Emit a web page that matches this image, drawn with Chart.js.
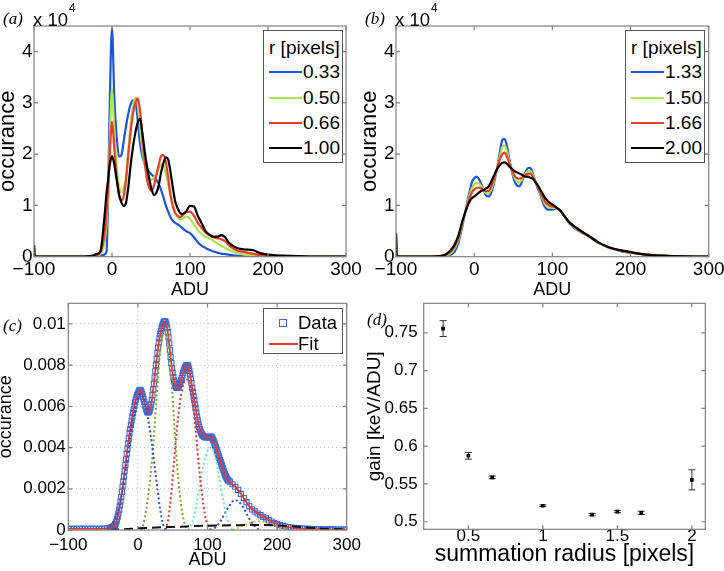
<!DOCTYPE html>
<html><head><meta charset="utf-8">
<script src="https://cdn.jsdelivr.net/npm/chart.js@4/dist/chart.umd.min.js"></script>
<style>
html,body{margin:0;padding:0;background:#fff;}
#wrap{position:relative;width:724px;height:571px;overflow:hidden;font-family:"Liberation Sans",Arial,sans-serif;color:#000;}
canvas{position:absolute;left:0;top:0;}
.plab{position:absolute;font-family:"Liberation Serif",serif;font-style:italic;font-size:17px;line-height:17px;white-space:nowrap;}
.exp{position:absolute;font-size:18.5px;line-height:18px;white-space:nowrap;}
.exp span{position:absolute;font-size:12px;line-height:12px;top:-9px;}
.leg{position:absolute;background:#fff;border:1px solid #555;box-sizing:border-box;}
.leg .t{position:absolute;white-space:nowrap;}
.leg .sw{position:absolute;}
</style></head>
<body><div id="wrap">
<canvas id="ca" width="724" height="571"></canvas>
<canvas id="cb" width="724" height="571"></canvas>
<canvas id="cc" width="724" height="571"></canvas>
<canvas id="cd" width="724" height="571"></canvas>
</div>
<script>
// ---------- Panels (a) and (b): ADU histograms (values in units of 10^4) ----------
const aduAB = [-100,-99,-60,-40,-30,-25,-20,-15,-10,-7,-5,-3,0,3,6,9,12,15,18,21,24,27,30,33,36,39,42,45,48,51,54,57,60,63,66,69,72,75,78,81,84,87,90,95,100,105,110,115,120,125,130,135,140,145,150,160,170,180,190,200,220,240,270,300];
const namesA = ['0.33','0.50','0.66','1.00'];
const namesB = ['1.33','1.50','1.66','2.00'];
const r033 = [0.22,0,0,0,0,0,0.01,0.02,0.04,0.1, 1.2,2.9,4.46,3.1,2.34,1.95,1.98,2.25,2.55,2.8, 2.98,3.05,3.03,2.65,2.2,1.95,1.82,1.72,1.65,1.6, 1.56,1.5,1.42,1.3,1.16,1.0,0.88,0.77,0.7,0.66, 0.63,0.6,0.56,0.5,0.46,0.38,0.28,0.21,0.17,0.13, 0.1,0.08,0.06,0.05,0.04,0.02,0.01,0.005,0,0, 0,0,0,0];
const r050 = [0.22,0,0,0,0,0.01,0.02,0.05,0.25,0.65, 1.2,2.2,3.29,2.45,1.75,1.38,1.25,1.33,1.6,2.1, 2.6,2.95,3.1,2.97,2.5,2.1,1.78,1.58,1.5,1.5, 1.55,1.62,1.72,1.8,1.78,1.62,1.42,1.2,1.02,0.88, 0.78,0.73,0.74,0.78,0.74,0.63,0.52,0.44,0.39,0.36, 0.31,0.26,0.21,0.17,0.13,0.07,0.04,0.03,0.02,0.01, 0.005,0,0,0];
const r066 = [0.22,0,0,0,0,0.01,0.03,0.08,0.4,0.85, 1.3,1.95,2.63,2.1,1.56,1.2,1.1,1.18,1.5,2.0, 2.45,2.8,3.0,3.09,2.85,2.35,1.85,1.5,1.33,1.28, 1.4,1.6,1.8,1.96,1.98,1.85,1.55,1.2,0.98,0.85, 0.8,0.77,0.8,0.87,0.88,0.8,0.66,0.56,0.47,0.42, 0.38,0.36,0.34,0.3,0.22,0.12,0.09,0.06,0.03,0.02, 0.01,0.005,0,0];
const r100 = [0.22,0,0,0,0.01,0.02,0.05,0.1,0.72,1.24, 1.5,1.78,1.96,1.8,1.5,1.22,1.06,0.99,1.05,1.37, 1.8,2.15,2.42,2.62,2.69,2.4,2.05,1.75,1.5,1.3, 1.2,1.25,1.4,1.65,1.83,1.94,1.9,1.65,1.35,1.08, 0.95,0.86,0.83,0.88,0.99,0.98,0.8,0.65,0.5,0.43, 0.39,0.39,0.42,0.38,0.27,0.17,0.14,0.13,0.07,0.04, 0.02,0.01,0,0];
const r133 = [0.45,0,0,0,0.04,0.1,0.28,0.6,0.97,1.2, 1.32,1.45,1.53,1.56,1.52,1.42,1.3,1.2,1.17,1.22, 1.35,1.55,1.78,2.05,2.28,2.3,2.15,1.9,1.68,1.5, 1.4,1.37,1.42,1.55,1.66,1.73,1.73,1.62,1.48,1.35, 1.24,1.1,0.98,0.92,0.92,0.94,0.9,0.8,0.68,0.6, 0.54,0.49,0.45,0.41,0.36,0.26,0.19,0.14,0.1,0.08, 0.04,0.02,0.005,0];
const r150 = [0.45,0,0,0.01,0.07,0.16,0.34,0.64,0.96,1.14, 1.24,1.33,1.41,1.44,1.43,1.38,1.3,1.24,1.23,1.28, 1.41,1.58,1.77,1.97,2.14,2.17,2.05,1.86,1.69,1.56, 1.48,1.45,1.48,1.56,1.63,1.67,1.67,1.59,1.48,1.37, 1.27,1.15,1.04,0.97,0.95,0.95,0.9,0.8,0.69,0.61, 0.55,0.5,0.46,0.41,0.36,0.26,0.19,0.14,0.11,0.08, 0.04,0.02,0.005,0];
const r166 = [0.45,0,0,0.02,0.1,0.2,0.38,0.68,0.94,1.1, 1.18,1.25,1.31,1.34,1.35,1.33,1.3,1.28,1.28,1.34, 1.46,1.6,1.76,1.9,2.0,2.03,1.95,1.82,1.7,1.6, 1.54,1.52,1.53,1.57,1.6,1.62,1.62,1.56,1.47,1.38, 1.29,1.19,1.09,1.01,0.98,0.96,0.9,0.8,0.7,0.62, 0.56,0.51,0.46,0.42,0.37,0.27,0.2,0.15,0.11,0.085, 0.04,0.02,0.005,0];
const r200 = [0.45,0,0,0.02,0.13,0.24,0.42,0.7,0.93,1.04, 1.1,1.14,1.17,1.21,1.25,1.28,1.3,1.33,1.36,1.44, 1.54,1.64,1.73,1.79,1.83,1.84,1.81,1.76,1.72,1.68, 1.65,1.63,1.61,1.58,1.56,1.56,1.54,1.52,1.46,1.4, 1.32,1.24,1.16,1.07,1.02,0.96,0.9,0.8,0.7,0.63, 0.57,0.52,0.47,0.42,0.37,0.27,0.2,0.15,0.12,0.09, 0.04,0.02,0.005,0];
const xTicksADU = [-100,0,100,200,300];
const xLabelsADU = ['\u2212100','0','100','200','300'];
const yTicksAB = [0,1,2,3,4];
const yLabelsAB = ['0','1','2','3','4'];

// ---------- Panel (c): normalised histogram, fit and components (values in units of 10^-3) ----------
const aduC = [-100,-96,-92,-88,-84,-80,-76,-72,-68,-64,-60,-56,-52,-48,-44,-40,
-39,-38,-37,-36,-35,-34,-33,-32,-31,-30,
-29,-28,-27,-26,-25,-24,-23,-22,-21,-20,
-19,-18,-17,-16,-15,-14,-13,-12,-11,-10,
-9,-8,-7,-6,-5,-4,-3,-2,-1,0,
1,2,3,4,5,6,7,8,9,10,
11,12,13,14,15,16,17,18,19,20,
21,22,23,24,25,26,27,28,29,30,
31,32,33,34,35,36,37,38,39,40,
41,42,43,44,45,46,47,48,49,50,
51,52,53,54,55,56,57,58,59,60,
61,62,63,64,65,66,67,68,69,70,
71,72,73,74,75,76,77,78,79,80,
81,82,83,84,85,86,87,88,89,90,
91,92,93,94,95,96,97,98,99,100,
101,102,103,104,105,106,107,108,109,110,
111,112,113,114,115,116,117,118,119,120,
121,122,123,124,125,126,127,128,129,130,
132,136,140,144,148,152,156,160,164,168,172,176,180,184,188,192,196,200,204,208,212,216,220,224,228,232,236,240,244,248,252,256,260,264,268,272,276,280,284,288,292,296,300];
const dataC = [0.05,0.05,0.05,0.05,0.05,0.05,0.05,0.05,0.05,0.05,0.05,0.06,0.06,0.07,0.08,0.1,
0.11,0.12,0.13,0.15,0.18,0.21,0.25,0.3,0.4,0.52,
0.65,0.8,0.98,1.18,1.38,1.6,1.85,2.1,2.35,2.6,
2.88,3.15,3.42,3.7,3.95,4.2,4.45,4.7,4.9,5.1,
5.3,5.5,5.68,5.86,6.03,6.2,6.32,6.44,6.53,6.62,
6.7,6.76,6.8,6.78,6.7,6.6,6.48,6.35,6.22,6.1,
5.98,5.86,5.76,5.7,5.7,5.74,5.8,5.95,6.1,6.3,
6.55,6.82,7.1,7.4,7.7,8.0,8.3,8.6,8.85,9.1,
9.3,9.5,9.65,9.8,9.92,10.0,10.08,10.12,10.12,10.08,
9.98,9.82,9.6,9.35,9.05,8.72,8.4,8.1,7.85,7.62,
7.42,7.25,7.1,7.0,6.93,6.9,6.9,6.94,7.0,7.08,
7.17,7.27,7.38,7.5,7.62,7.73,7.83,7.91,7.97,8.0,
8.0,7.96,7.87,7.72,7.55,7.35,7.13,6.9,6.7,6.5,
6.3,6.1,5.9,5.7,5.5,5.32,5.15,5.0,4.88,4.78,
4.7,4.64,4.59,4.56,4.53,4.51,4.5,4.5,4.5,4.5,
4.5,4.51,4.52,4.53,4.52,4.5,4.45,4.38,4.3,4.2,
4.1,4.0,3.9,3.8,3.7,3.6,3.5,3.4,3.3,3.2,
3.1,3.0,2.9,2.8,2.7,2.62,2.55,2.49,2.44,2.4,
2.35,2.22,2.1,1.95,1.75,1.55,1.35,1.15,1.0,0.9,0.8,0.72,0.64,0.56,0.48,0.41,0.34,0.29,0.24,0.2,0.17,0.14,0.12,0.1,0.09,0.08,0.07,0.06,0.05,0.05,0.04,0.04,0.04,0.03,0.03,0.03,0.03,0.03,0.02,0.02,0.02,0.02,0.02];
const fitAdu = [-100,-60,-40,-36,-32,-28,-24,-20,-16,-12,-8,-4,0,3,6,10,14,17,20,24,28,32,36,39,42,46,50,54,57,60,64,68,71,74,78,82,86,90,94,98,102,106,110,114,118,122,126,130,135,140,145,150,155,160,170,180,190,200,210,220,230,240,260,280,300];
const fitC = [0.05,0.05,0.1,0.15,0.3,0.8,1.6,2.6,3.7,4.7,5.5,6.2,6.6,6.8,6.6,6.1,5.7,5.8,6.3,7.4,8.6,9.5,10.0,10.1,9.8,8.7,7.6,7.0,6.9,7.1,7.5,7.9,8.0,7.7,6.9,6.1,5.3,4.8,4.6,4.5,4.5,4.5,4.2,3.8,3.4,3.0,2.6,2.4,2.2,2.1,1.9,1.65,1.4,1.15,0.85,0.65,0.45,0.3,0.18,0.12,0.08,0.06,0.04,0.03,0.02];
const comp1X = [-44,-40,-36,-32,-28,-24,-20,-16,-12,-8,-4,0,4,8,12,16,20,24,28,32,36,40];
const comp1Y = [0,0.15,0.35,0.6,1.0,1.6,2.4,3.3,4.3,5.2,5.9,6.4,6.6,6.4,5.9,5.1,4.2,3.1,2.0,1.0,0.3,0];
const comp2X = [4,8,12,16,20,24,28,32,36,40,44,48,52,56,60,64,68,72];
const comp2Y = [0,0.3,1.0,2.0,3.3,5.0,7.0,8.7,9.6,9.7,8.9,7.4,5.3,3.3,1.8,0.8,0.2,0];
const comp3X = [40,44,48,52,56,60,64,68,72,76,80,84,88,92,96,100,104];
const comp3Y = [0,0.6,1.8,3.4,4.9,6.1,6.9,7.3,7.3,6.8,5.8,4.5,3.0,1.8,0.8,0.25,0];
const comp4X = [72,76,80,84,88,92,96,100,104,108,112,116,120,124,128,132,136];
const comp4Y = [0,0.2,0.6,1.2,2.0,2.8,3.4,3.85,4.0,3.9,3.4,2.7,1.9,1.2,0.6,0.2,0];
const comp5X = [104,108,112,116,120,124,128,132,136,140,144,148,152,156,160,164,168,172,176];
const comp5Y = [0,0.05,0.15,0.3,0.5,0.75,1.0,1.2,1.38,1.45,1.4,1.25,1.05,0.8,0.55,0.35,0.18,0.06,0];
const comp6X = [136,144,152,160,168,176,184,192,200,208,216];
const comp6Y = [0,0.1,0.22,0.33,0.4,0.42,0.38,0.28,0.16,0.07,0];
const bgX = [-40,-30,-20,-10,0,20,40,60,80,100,120,140,160,180,200,220,240,260,280,300];
const bgY = [0,0.02,0.04,0.06,0.08,0.11,0.14,0.16,0.19,0.21,0.22,0.23,0.24,0.24,0.22,0.18,0.13,0.08,0.05,0.03];
const yTicksC = [0,2,4,6,8,10];
const yLabelsC = ['0','0.002','0.004','0.006','0.008','0.01'];

// ---------- Panel (d): gain vs summation radius ----------
const radiusD = [0.33,0.5,0.66,1.0,1.33,1.5,1.66,2.0];
const gainD = [0.7555,0.5873,0.5587,0.5212,0.5093,0.5135,0.5118,0.5555];
const errD = [0.0105,0.0045,0.0018,0.001,0.0015,0.0015,0.0022,0.0133];
const xTicksD = [0.5,1,1.5,2];
const xLabelsD = ['0.5','1','1.5','2'];
const yTicksD = [0.5,0.55,0.6,0.65,0.7,0.75];
const yLabelsD = ['0.5','0.55','0.6','0.65','0.7','0.75'];

// ---------- helpers ----------
const FONT = '"Liberation Sans", Arial, sans-serif';
const COLS = ['#1d55e0','#aee24c','#f03a2a','#000000'];
const pts = (xs, ys) => xs.map((x, i) => ({x: x, y: ys[i]}));

function xAxis(o){
  return {type:'linear',min:o.min,max:o.max,
    afterBuildTicks:s=>{s.ticks=o.vals.map(v=>({value:v}));},
    afterFit:s=>{s.height=o.h;s.paddingLeft=0;s.paddingRight=0;},
    ticks:{autoSkip:false,maxRotation:0,minRotation:0,padding:o.pad,color:'#000',
      font:{family:FONT,size:o.fs,lineHeight:1.2},callback:v=>o.labels[o.vals.indexOf(v)]},
    grid:o.grid||{display:false,drawTicks:false},
    border:o.border||{display:false},
    title:{display:true,text:o.title,color:'#000',font:{family:FONT,size:o.ts,lineHeight:1.2},padding:{top:0,bottom:o.tpb}}
  };
}
function yAxis(o){
  return {type:'linear',min:o.min,max:o.max,
    afterBuildTicks:s=>{s.ticks=o.vals.map(v=>({value:v}));},
    afterFit:s=>{s.width=o.w;s.paddingTop=0;s.paddingBottom=0;},
    ticks:{autoSkip:false,padding:o.pad,color:'#000',font:{family:FONT,size:o.fs},
      callback:v=>o.labels[o.vals.indexOf(v)]},
    grid:o.grid||{display:false,drawTicks:false},
    border:o.border||{display:false},
    title:{display:true,text:o.title,color:'#000',font:{family:FONT,size:o.ts,lineHeight:1},padding:{top:o.tpt,bottom:0}}
  };
}
const boxPlugin = {
  id:'mbox',
  afterDatasetsDraw(chart){
    const {ctx, chartArea:a, scales:{x, y}} = chart;
    ctx.save();
    ctx.strokeStyle = '#808080'; ctx.lineWidth = 1.2;
    ctx.strokeRect(a.left, a.top, a.right - a.left, a.bottom - a.top);
    ctx.beginPath();
    x.ticks.forEach(t=>{const p=x.getPixelForValue(t.value);
      ctx.moveTo(p,a.bottom);ctx.lineTo(p,a.bottom-4);ctx.moveTo(p,a.top);ctx.lineTo(p,a.top+4);});
    y.ticks.forEach(t=>{const p=y.getPixelForValue(t.value);
      ctx.moveTo(a.left,p);ctx.lineTo(a.left+4,p);ctx.moveTo(a.right,p);ctx.lineTo(a.right-4,p);});
    ctx.stroke();
    ctx.restore();
  }
};
const errPlugin = {
  id:'errbars',
  beforeDatasetsDraw(chart){
    const {ctx, scales:{x, y}} = chart;
    ctx.save(); ctx.strokeStyle='#333'; ctx.lineWidth=1;
    ctx.beginPath();
    radiusD.forEach((r,i)=>{
      const px=x.getPixelForValue(r), t=y.getPixelForValue(gainD[i]+errD[i]), b=y.getPixelForValue(gainD[i]-errD[i]);
      ctx.moveTo(px,t);ctx.lineTo(px,b);
      ctx.moveTo(px-3.5,t);ctx.lineTo(px+3.5,t);
      ctx.moveTo(px-3.5,b);ctx.lineTo(px+3.5,b);
    });
    ctx.stroke(); ctx.restore();
  }
};
const baseOpts = (pad) => ({responsive:false,animation:false,devicePixelRatio:1,
  layout:{padding:pad},plugins:{legend:{display:false},tooltip:{enabled:false}},
  elements:{point:{radius:0}}, events:[]});

function curveSet(series, names){
  return series.map((s,i)=>({label:names[i],data:pts(aduAB,s),borderColor:COLS[i],borderWidth:2.2,
    pointRadius:0,cubicInterpolationMode:'monotone',fill:false,order:4-i}));
}
function histChart(id, series, names, left, right){
  const o = baseOpts({left:left,top:26,right:right,bottom:269.3});
  o.scales = {
    x: xAxis({min:-100,max:300,vals:xTicksADU,labels:xLabelsADU,h:45,pad:2,fs:19,title:'ADU',ts:18,tpb:0.4}),
    y: yAxis({min:0,max:4.5,vals:yTicksAB,labels:yLabelsAB,w:34,pad:1.5,fs:19,title:'occurance',ts:22,tpt:-3})
  };
  return new Chart(document.getElementById(id),{type:'line',data:{datasets:curveSet(series,names)},options:o,plugins:[boxPlugin]});
}
histChart('ca',[r033,r050,r066,r100],namesA,0,378);
histChart('cb',[r133,r150,r166,r200],namesB,362,15.3);

// panel c
(function(){
  const o = baseOpts({left:0,top:303.3,right:377.3,bottom:0});
  const dotted = {display:true,drawTicks:false,color:'#c4c4c4',lineWidth:1};
  o.scales = {
    x: xAxis({min:-100,max:300,vals:xTicksADU,labels:xLabelsADU,h:41,pad:5,fs:17,title:'ADU',ts:18,tpb:0.2,
      grid:dotted,border:{display:false,dash:[1,3]}}),
    y: yAxis({min:0,max:11,vals:yTicksC,labels:yLabelsC,w:68.3,pad:2.5,fs:17,title:'occurance',ts:18,tpt:-2.5,
      grid:dotted,border:{display:false,dash:[1,3]}})
  };
  const comp = (xs,ys,c)=>({data:pts(xs,ys),borderColor:c,borderWidth:2,borderDash:[2,2.5],pointRadius:0,
    cubicInterpolationMode:'monotone',fill:false,order:5});
  const ds = [
    {label:'Data',data:pts(aduC,dataC),showLine:false,pointStyle:'rect',pointRadius:3.6,pointBorderWidth:1.1,
      pointBorderColor:'#3a69da',pointBackgroundColor:'rgba(0,0,0,0)',order:10},
    {label:'Fit',data:pts(fitAdu,fitC),borderColor:'#e8372c',borderWidth:1.8,pointRadius:0,cubicInterpolationMode:'monotone',fill:false,order:9},
    comp(comp1X,comp1Y,'#2a4fd0'),
    comp(comp2X,comp2Y,'#78a42a'),
    comp(comp3X,comp3Y,'#e6342c'),
    comp(comp4X,comp4Y,'#62f0b4'),
    comp(comp5X,comp5Y,'#4a3fcf'),
    comp(comp6X,comp6Y,'#d8c03c'),
    {data:pts(bgX,bgY),borderColor:'#111',borderWidth:2,borderDash:[9,5],pointRadius:0,cubicInterpolationMode:'monotone',fill:false,order:1}
  ];
  new Chart(document.getElementById('cc'),{type:'line',data:{datasets:ds},options:o,plugins:[boxPlugin]});
})();

// panel d
(function(){
  const o = baseOpts({left:362,top:303.3,right:18.7,bottom:0});
  o.scales = {
    x: xAxis({min:0.2,max:2.09,vals:xTicksD,labels:xLabelsD,h:41.7,pad:-3,fs:17,title:'summation radius [pixels]',ts:23,tpb:2.2}),
    y: yAxis({min:0.49,max:0.789,vals:yTicksD,labels:yLabelsD,w:61.7,pad:6,fs:17,title:'gain [keV/ADU]',ts:19,tpt:3.5})
  };
  const ds = [{label:'gain',data:pts(radiusD,gainD),showLine:false,pointStyle:'rect',pointRadius:2.6,
    pointBorderWidth:0,pointBackgroundColor:'#000',pointBorderColor:'#000'}];
  new Chart(document.getElementById('cd'),{type:'line',data:{datasets:ds},options:o,plugins:[errPlugin,boxPlugin]});
})();

// ---------- text overlays: panel letters, exponents, legends ----------
const wrap = document.getElementById('wrap');
function addDiv(cls, html, css){const d=document.createElement('div');d.className=cls;d.innerHTML=html;Object.assign(d.style,css);wrap.appendChild(d);return d;}
addDiv('plab','(a)',{left:'3px',top:'9.5px'});
addDiv('plab','(b)',{left:'365px',top:'9.5px'});
addDiv('plab','(c)',{left:'3px',top:'317px'});
addDiv('plab','(d)',{left:'367px',top:'311px'});
addDiv('exp','x 10<span style="left:36px">4</span>',{left:'33px',top:'11px'});
addDiv('exp','x 10<span style="left:36px">4</span>',{left:'395px',top:'11px'});

function histLegend(left, names){
  const L = addDiv('leg','',{left:left+'px',top:'30px',width:'80px',height:'133px'});
  const t = document.createElement('div'); t.className='t'; t.textContent='r [pixels]';
  Object.assign(t.style,{left:'5px',top:'6px',fontSize:'19px',lineHeight:'22px'}); L.appendChild(t);
  const rows=[41,67,92,117];
  names.forEach((n,i)=>{
    const s=document.createElement('div');s.className='sw';
    Object.assign(s.style,{left:'5px',top:(rows[i]-1)+'px',width:'33px',height:'2.4px',background:COLS[i]});L.appendChild(s);
    const tx=document.createElement('div');tx.className='t';tx.textContent=n;
    Object.assign(tx.style,{left:'39px',top:(rows[i]-11)+'px',fontSize:'19px',lineHeight:'22px'});L.appendChild(tx);
  });
}
histLegend(263, namesA);
histLegend(625, namesB);
(function(){
  const L = addDiv('leg','',{left:'263px',top:'308px',width:'80px',height:'46px'});
  const sq=document.createElement('div');sq.className='sw';
  Object.assign(sq.style,{left:'15px',top:'10px',width:'6px',height:'6px',border:'1px solid #3a69da'});L.appendChild(sq);
  const t1=document.createElement('div');t1.className='t';t1.textContent='Data';
  Object.assign(t1.style,{left:'34px',top:'3px',fontSize:'18.5px',lineHeight:'22px'});L.appendChild(t1);
  const ln=document.createElement('div');ln.className='sw';
  Object.assign(ln.style,{left:'5px',top:'34px',width:'29px',height:'2px',background:'#e8372c'});L.appendChild(ln);
  const t2=document.createElement('div');t2.className='t';t2.textContent='Fit';
  Object.assign(t2.style,{left:'34px',top:'24px',fontSize:'18.5px',lineHeight:'22px'});L.appendChild(t2);
})();
</script>
</body></html>
